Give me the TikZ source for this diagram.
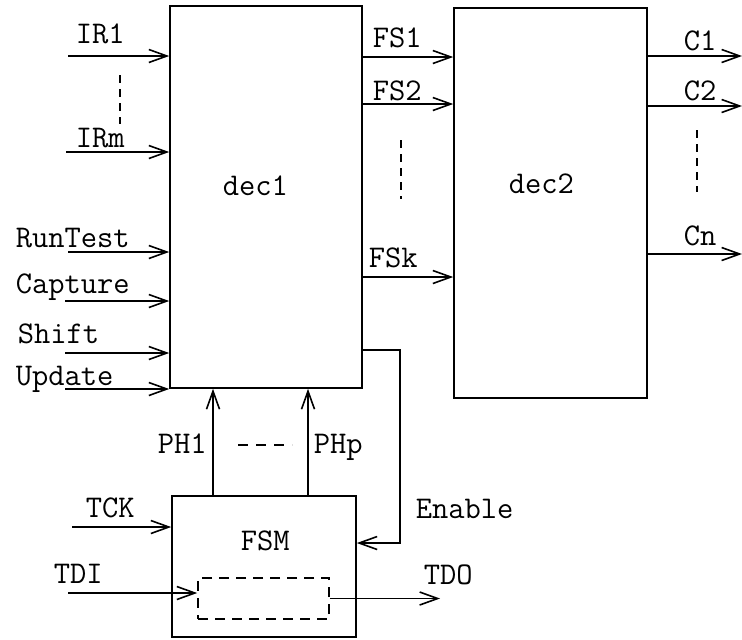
\documentclass[tikz,border=0pt]{standalone}
\usepackage{tikz}
\usetikzlibrary{positioning,arrows.meta,calc}

\newcommand{\sigfont}{\fontsize{15.8}{19}\selectfont\ttfamily}

\begin{document}
\begin{tikzpicture}[x=0.5pt, y=-0.5pt, font=\sigfont, line width=0.8pt,
  block/.style={draw, line width=0.8pt, inner sep=0pt},
  sig/.style={-{Straight Barb[length=9pt, width=6.5pt]}},
  lbl/.style={anchor=base west, inner sep=0pt},
  vdots/.style={dash pattern=on 4pt off 3pt}]
  \useasboundingbox (0,0) rectangle (742,639);

  % Blocks
  \node[block, minimum width=96pt, minimum height=191pt] (dec1) at (266, 197) {};
  \node[lbl] (dec1lbl) at (222, 195) {dec1};
  \node[block, minimum width=96.5pt, minimum height=195pt] (dec2) at (550.5, 203) {};
  \node[lbl] (dec2lbl) at (508, 193) {dec2};
  \node[block, minimum width=92pt, minimum height=70.5pt] (fsm) at (264, 566.5) {};
  \node[lbl] (fsmlbl) at (240, 550) {FSM};
  \node[block, dashed, dash pattern=on 5pt off 3.5pt, minimum width=65.5pt, minimum height=20.5pt] (buf) at (263.5, 598.5) {};

  % Inputs of dec1
  \coordinate (ir1) at (68, 56);
  \coordinate (irm) at (66, 152);
  \coordinate (run) at (68, 252);
  \coordinate (cap) at (65, 301);
  \coordinate (shf) at (65, 353);
  \coordinate (upd) at (65, 389);
  \foreach \c in {ir1, irm, run, cap, shf, upd}
    \draw[sig] (\c) -- (\c -| dec1.west);
  \node[lbl] (ir1lbl) at (75, 43) {IR1};
  \node[lbl] (irmlbl) at (75, 147) {IRm};
  \node[lbl] (runlbl) at (15, 247) {RunTest};
  \node[lbl] (caplbl) at (15, 293) {Capture};
  \node[lbl] (shflbl) at (17, 343) {Shift};
  \node[lbl] (updlbl) at (15, 385) {Update};
  \draw[vdots] (120, 75) -- (120, 124);

  % dec1 -> dec2
  \coordinate (fs1) at (dec1.east |- 0, 57);
  \coordinate (fs2) at (dec1.east |- 0, 104);
  \coordinate (fsk) at (dec1.east |- 0, 277);
  \foreach \c in {fs1, fs2, fsk}
    \draw[sig] (\c) -- (\c -| dec2.west);
  \node[lbl] (fs1lbl) at (372, 47) {FS1};
  \node[lbl] (fs2lbl) at (372, 100) {FS2};
  \node[lbl] (fsklbl) at (368, 267) {FSk};
  \draw[vdots] (401, 140) -- (401, 199);

  % Outputs of dec2
  \coordinate (c1) at (742, 56);
  \coordinate (c2) at (742, 106);
  \coordinate (cn) at (742, 254);
  \foreach \c in {c1, c2, cn}
    \draw[sig] (\c -| dec2.east) -- (\c);
  \node[lbl] (c1lbl) at (683, 50) {C1};
  \node[lbl] (c2lbl) at (683, 100) {C2};
  \node[lbl] (cnlbl) at (683, 245) {Cn};
  \draw[vdots] (697, 130) -- (697, 192);

  % FSM -> dec1 phases
  \coordinate (ph1) at (213, 450);
  \coordinate (php) at (308, 450);
  \draw[sig] (fsm.north -| ph1) -- (dec1.south -| ph1);
  \draw[sig] (fsm.north -| php) -- (dec1.south -| php);
  \node[lbl] (ph1lbl) at (157, 453) {PH1};
  \node[lbl] (phplbl) at (313, 453) {PHp};
  \draw[dash pattern=on 5pt off 4pt] (238, 445) -- (292, 445);

  % Enable feedback
  \coordinate (ena) at (400, 350);
  \coordinate (enb) at (400, 543);
  \draw[sig] (ena -| dec1.east) -- (ena) -- (enb) -- (enb -| fsm.east);
  \node[lbl] (enlbl) at (415, 518) {Enable};

  % FSM inputs and TDO
  \coordinate (tck) at (72, 527);
  \coordinate (tdi) at (68, 593);
  \coordinate (tdo) at (440, 598.5);
  \draw[sig] (tck) -- (tck -| fsm.west);
  \draw[sig] (tdi) -- (tdi -| buf.west);
  \draw[sig] (buf.east) -- (tdo);
  \node[lbl] (tcklbl) at (85, 517) {TCK};
  \node[lbl] (tdilbl) at (53, 583) {TDI};
  \node[lbl] (tdolbl) at (423, 584) {TDO};

\end{tikzpicture}
\end{document}
